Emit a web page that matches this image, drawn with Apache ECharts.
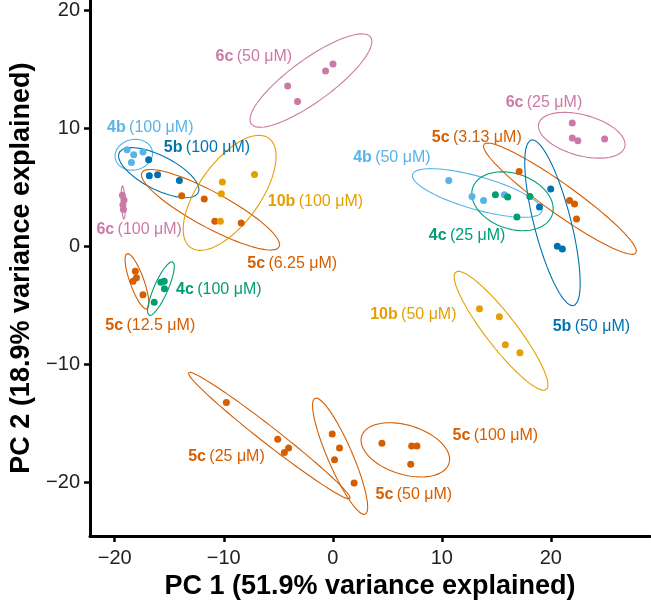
<!DOCTYPE html>
<html>
<head>
<meta charset="utf-8">
<script src="https://cdn.jsdelivr.net/npm/echarts@6/dist/echarts.min.js"></script>
<style>
html, body { margin: 0; padding: 0; background: #fff; }
#main { width: 651px; height: 605px; }
</style>
</head>
<body>
<div id="main"></div>
<script>
// PCA scores, one entry per treatment group (4 replicates each)
const compounds = ['6c', '4b', '5b', '5c', '10b', '6c', '5c', '4c', '6c', '5c', '4b', '4c', '5b', '10b', '5c', '5c', '5c']
const concs = ['50 μM', '100 μM', '100 μM', '6.25 μM', '100 μM', '100 μM', '12.5 μM', '100 μM', '25 μM', '3.13 μM', '50 μM', '25 μM', '50 μM', '50 μM', '25 μM', '50 μM', '100 μM']

const pc1 = [
  [-4.14, -3.23, -0.66, 0.02],
  [-18.87, -18.26, -17.41, -18.47],
  [-16.89, -16.83, -16.07, -14.07],
  [-13.86, -11.79, -10.82, -8.40],
  [-10.13, -10.22, -10.31, -7.18],
  [-19.30, -19.15, -19.25, -19.20],
  [-18.11, -18.01, -18.32, -17.41],
  [-15.77, -15.46, -15.44, -16.38],
  [21.97, 21.97, 22.48, 24.94],
  [17.10, 21.72, 22.18, 22.36],
  [10.64, 12.77, 13.83, 15.74],
  [14.92, 16.05, 18.08, 16.89],
  [19.99, 18.96, 20.60, 21.06],
  [13.46, 15.28, 15.83, 17.17],
  [-9.76, -5.05, -4.05, -4.44],
  [-0.05, 0.62, 0.16, 1.96],
  [4.51, 7.24, 7.72, 7.15]
]
const pc2 = [
  [13.57, 12.25, 14.84, 15.43],
  [8.16, 7.74, 7.97, 7.09],
  [7.31, 5.96, 6.05, 5.56],
  [4.27, 3.99, 2.10, 1.96],
  [5.43, 4.44, 2.10, 6.07],
  [4.30, 3.90, 3.50, 3.10],
  [-2.13, -2.69, -2.98, -4.13],
  [-3.06, -2.98, -3.62, -4.75],
  [10.42, 9.15, 8.92, 9.07],
  [6.33, 3.87, 3.57, 2.30],
  [5.56, 4.21, 3.87, 4.36],
  [4.36, 4.16, 4.21, 2.47],
  [4.84, 3.32, -0.02, -0.24],
  [-5.31, -5.99, -8.36, -9.03],
  [-13.26, -16.36, -17.10, -17.49],
  [-15.92, -17.10, -18.11, -20.08],
  [-16.70, -16.93, -16.93, -18.48]
]

// where each group label sits (data units)
const labelX = [-7.24, -16.74, -11.54, -3.72, -1.59, -17.76, -16.74, -10.45, 19.37, 13.21, 5.42, 12.32, 23.72, 7.39, -9.75, 7.44, 14.91]
const labelY = [16.05, 10.05, 8.36, -1.48, 3.79, 1.40, -6.72, -3.68, 12.19, 9.23, 7.46, 0.91, -6.78, -5.79, -17.83, -21.06, -16.03]

const xTicks = [-20, -10, 0, 10, 20]
const yTicks = [-20, -10, 0, 10, 20]

const palette = {
  '4b': '#56B4E9',
  '5b': '#0072B2',
  '5c': '#D55E00',
  '4c': '#009E73',
  '10b': '#E69F00',
  '6c': '#CC79A7'
}
const FONT = 'Liberation Sans, Arial, Helvetica, sans-serif'

// confidence ellipse from mean + sample covariance (cholesky), like stat_ellipse
function ellipse(xs, ys, r) {
  const n = xs.length
  const mx = xs.reduce((a, b) => a + b, 0) / n
  const my = ys.reduce((a, b) => a + b, 0) / n
  let sxx = 0, syy = 0, sxy = 0
  for (let i = 0; i < n; i++) {
    sxx += (xs[i] - mx) ** 2
    syy += (ys[i] - my) ** 2
    sxy += (xs[i] - mx) * (ys[i] - my)
  }
  sxx /= n - 1; syy /= n - 1; sxy /= n - 1
  const a = Math.sqrt(sxx)
  const b = sxy / a
  const c = Math.sqrt(Math.max(syy - b * b, 0))
  const pts = []
  for (let k = 0; k <= 100; k++) {
    const t = 2 * Math.PI * k / 100
    const u = Math.cos(t), v = Math.sin(t)
    pts.push([mx + r * a * u, my + r * (b * u + c * v)])
  }
  return pts
}

const series = []
pc1.forEach((xs, g) => {
  const col = palette[compounds[g]]
  series.push({
    type: 'line',
    data: ellipse(xs, pc2[g], 2.8),
    showSymbol: false,
    silent: true,
    lineStyle: { color: col, width: 1.1 },
    z: 2
  })
  series.push({
    type: 'scatter',
    data: xs.map((x, i) => [x, pc2[g][i]]),
    symbolSize: 7,
    itemStyle: { color: col, opacity: 1 },
    z: 3
  })
})

// text labels: invisible anchor with a centred rich label
series.push({
  type: 'scatter',
  symbolSize: 1,
  itemStyle: { color: 'rgba(0,0,0,0)', opacity: 1 },
  silent: true,
  z: 4,
  data: labelX.map((x, g) => {
    const col = palette[compounds[g]]
    return {
      value: [x, labelY[g]],
      label: {
        show: true,
        position: 'inside',
        opacity: 1,
        formatter: '{b|' + compounds[g] + '} {n|(' + concs[g] + ')}',
        rich: {
          b: { color: col, fontWeight: 'bold', fontSize: 16, fontFamily: FONT },
          n: { color: col, fontSize: 16, fontFamily: FONT }
        }
      }
    }
  })
})

const minus = v => String(v).replace('-', '\u2212')

const myChart = echarts.init(document.getElementById('main'), null, { renderer: 'canvas' })
myChart.setOption({
  animation: false,
  grid: { left: 86, right: 1, top: 0, bottom: 68 },
  xAxis: {
    type: 'value',
    min: -22.27,
    max: 29.1,
    name: 'PC 1 (51.9% variance explained)',
    nameLocation: 'middle',
    nameGap: 35,
    nameTextStyle: { color: '#000', fontSize: 27, fontWeight: 'bold', fontFamily: FONT },
    axisLine: { show: true, onZero: false, lineStyle: { color: '#000', width: 3 } },
    axisTick: { show: true, length: 6, lineStyle: { color: '#000', width: 2.5 }, customValues: xTicks },
    axisLabel: { color: '#222', fontSize: 20, fontFamily: FONT, margin: 12, customValues: xTicks, formatter: minus },
    splitLine: { show: false }
  },
  yAxis: {
    type: 'value',
    min: -24.57,
    max: 20.85,
    name: 'PC 2 (18.9% variance explained)',
    nameLocation: 'middle',
    nameRotate: 90,
    nameGap: 55,
    nameTextStyle: { color: '#000', fontSize: 27, fontWeight: 'bold', fontFamily: FONT },
    axisLine: { show: true, onZero: false, lineStyle: { color: '#000', width: 3 } },
    axisTick: { show: true, length: 6, lineStyle: { color: '#000', width: 2.5 }, customValues: yTicks },
    axisLabel: { color: '#222', fontSize: 20, fontFamily: FONT, margin: 10, customValues: yTicks, formatter: minus },
    splitLine: { show: false }
  },
  series: series
})
</script>
</body>
</html>
